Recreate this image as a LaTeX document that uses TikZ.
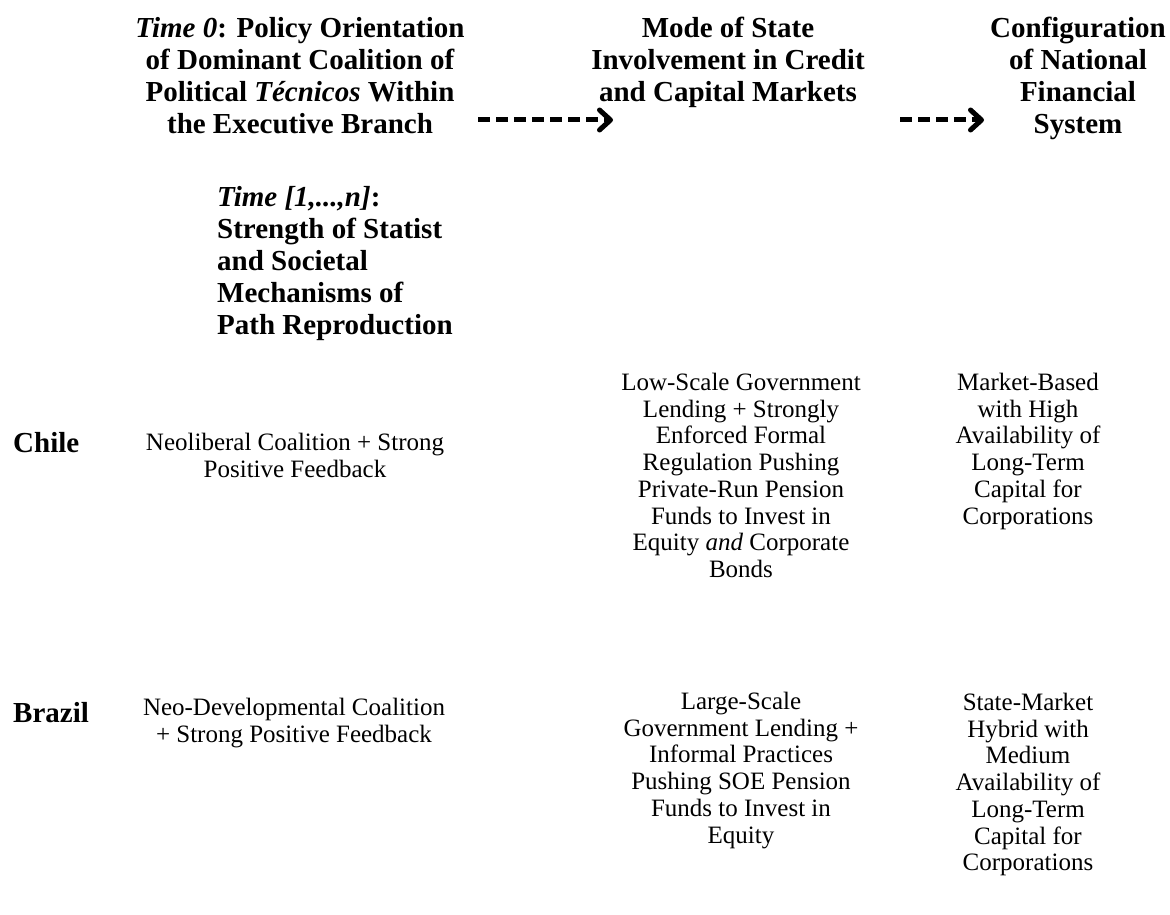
\documentclass[tikz,border=0pt]{standalone}
\usepackage{fontspec}
\setmainfont{Liberation Serif}
\usetikzlibrary{arrows.meta, positioning}
\tikzset{> = { Straight Barb[round, length = 11pt, width = 20pt] }}

\begin{document}
\begin{tikzpicture}[x = 1pt, y = -1pt,
		head/.style = { font = \fontsize{29}{32}\selectfont\bfseries, align = center, inner sep = 0pt, anchor = north },
		body/.style = { font = \fontsize{25}{26.7}\selectfont, align = center, inner sep = 0pt, anchor = north },
		flow/.style = { ->, line width = 5pt, dash pattern = on 12pt off 6pt },
		flowshadow/.style = { flow, draw = black!15, opacity = 0.5, shift = {(2, 3)} }]
		\useasboundingbox (0, 0) rectangle (1170, 915);

		% column headers
		\node [head] (orient) at (300, 17) {\textit{Time 0}: Policy Orientation\\ of Dominant Coalition of\\ Political \textit{Técnicos} Within\\ the Executive Branch};
		\node [head] (mode)   at (728, 17) {Mode of State\\ Involvement in Credit\\ and Capital Markets};
		\node [head] (config) at (1078, 17) {Configuration\\ of National\\ Financial\\ System};
		\node [head, anchor = north west, align = left] (mech) at (217, 186) {\textit{Time [1,...,n]}:\\ Strength of Statist\\ and Societal\\ Mechanisms of\\ Path Reproduction};

		% Chile
		\node [head, anchor = north west] (chile) at (13, 432) {Chile};
		\node [body] (chileC) at (295, 433) {Neoliberal Coalition + Strong\\ Positive Feedback};
		\node [body] (chileM) at (741, 373) {Low-Scale Government\\ Lending + Strongly\\ Enforced Formal\\ Regulation Pushing\\ Private-Run Pension\\ Funds to Invest in\\ Equity \textit{and} Corporate\\ Bonds};
		\node [body] (chileS) at (1028, 373) {Market-Based\\ with High\\ Availability of\\ Long-Term\\ Capital for\\ Corporations};

		% Brazil
		\node [head, anchor = north west] (brazil) at (13, 702) {Brazil};
		\node [body] (brazilC) at (294, 698) {Neo-Developmental Coalition\\ + Strong Positive Feedback};
		\node [body] (brazilM) at (741, 692) {Large-Scale\\ Government Lending +\\ Informal Practices\\ Pushing SOE Pension\\ Funds to Invest in\\ Equity};
		\node [body] (brazilS) at (1028, 693) {State-Market\\ Hybrid with\\ Medium\\ Availability of\\ Long-Term\\ Capital for\\ Corporations};

		% dashed arrows between the headers
		\coordinate (a1) at (478, 120);
		\coordinate (b1) at (613, 120);
		\coordinate (a2) at (900, 120);
		\coordinate (b2) at (984, 120);
		\draw [flowshadow] (a1) -- (b1);
		\draw [flowshadow] (a2) -- (b2);
		\draw [flow] (a1) -- (b1);
		\draw [flow] (a2) -- (b2);
	\end{tikzpicture}
\end{document}
